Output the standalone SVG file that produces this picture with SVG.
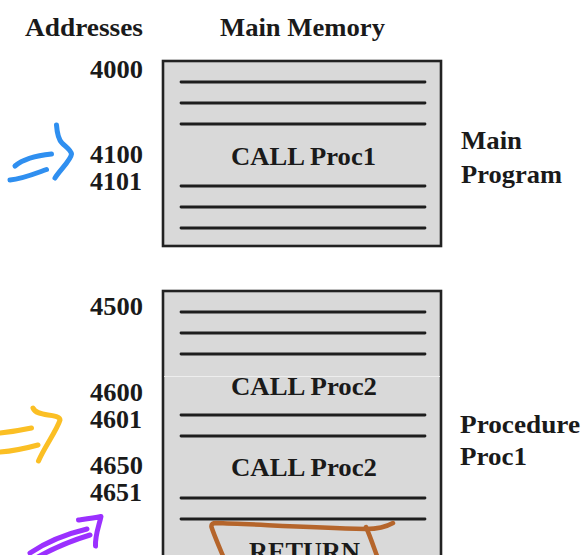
<svg xmlns="http://www.w3.org/2000/svg" width="585" height="555" viewBox="0 0 585 555">
<style>
text{font-family:"Liberation Serif","Times New Roman",serif;font-weight:bold;font-size:25px;fill:#1a1a1a}
.box{fill:#d9d9d9;stroke:#222;stroke-width:2.6}
.ln{stroke:#1e1e1e;stroke-width:2.8;stroke-linecap:round}
.ink{fill:none;stroke-linecap:round;stroke-linejoin:round}
</style>
<rect width="585" height="555" fill="#fff"/>
<g id="headers">
<text x="25" y="36" textLength="118" lengthAdjust="spacingAndGlyphs">Addresses</text>
<text x="220" y="36" textLength="165" lengthAdjust="spacingAndGlyphs">Main Memory</text>
</g>
<g id="main-program">
<rect class="box" x="163" y="61" width="278" height="185"/>
<line class="ln" x1="181" y1="82" x2="425" y2="82"/>
<line class="ln" x1="181" y1="103" x2="425" y2="103"/>
<line class="ln" x1="181" y1="124" x2="425" y2="124"/>
<text x="231" y="165" textLength="145" lengthAdjust="spacingAndGlyphs">CALL Proc1</text>
<line class="ln" x1="181" y1="186" x2="425" y2="186"/>
<line class="ln" x1="181" y1="207" x2="425" y2="207"/>
<line class="ln" x1="181" y1="228" x2="425" y2="228"/>
<text x="90" y="78" textLength="53" lengthAdjust="spacingAndGlyphs">4000</text>
<text x="90" y="163" textLength="53" lengthAdjust="spacingAndGlyphs">4100</text>
<text x="90" y="190" textLength="52" lengthAdjust="spacingAndGlyphs">4101</text>
<text x="461" y="149" textLength="61" lengthAdjust="spacingAndGlyphs">Main</text>
<text x="461" y="183" textLength="101" lengthAdjust="spacingAndGlyphs">Program</text>
</g>
<g id="procedure-proc1">
<rect class="box" x="163" y="291" width="278" height="280"/>
<line x1="164" y1="376.5" x2="440" y2="376.5" stroke="#eeeeee" stroke-width="1"/>
<line class="ln" x1="181" y1="312" x2="425" y2="312"/>
<line class="ln" x1="181" y1="333" x2="425" y2="333"/>
<line class="ln" x1="181" y1="354" x2="425" y2="354"/>
<text x="231" y="395" textLength="146" lengthAdjust="spacingAndGlyphs">CALL Proc2</text>
<line class="ln" x1="181" y1="415" x2="425" y2="415"/>
<line class="ln" x1="181" y1="436" x2="425" y2="436"/>
<text x="231" y="476" textLength="146" lengthAdjust="spacingAndGlyphs">CALL Proc2</text>
<line class="ln" x1="181" y1="498" x2="425" y2="498"/>
<line class="ln" x1="181" y1="519" x2="425" y2="519"/>
<text x="249" y="560" textLength="111" lengthAdjust="spacingAndGlyphs">RETURN</text>
<text x="90" y="315" textLength="53" lengthAdjust="spacingAndGlyphs">4500</text>
<text x="90" y="401" textLength="53" lengthAdjust="spacingAndGlyphs">4600</text>
<text x="90" y="428" textLength="52" lengthAdjust="spacingAndGlyphs">4601</text>
<text x="90" y="474" textLength="53" lengthAdjust="spacingAndGlyphs">4650</text>
<text x="90" y="501" textLength="52" lengthAdjust="spacingAndGlyphs">4651</text>
<text x="460" y="433" textLength="120" lengthAdjust="spacingAndGlyphs">Procedure</text>
<text x="460" y="465" textLength="67" lengthAdjust="spacingAndGlyphs">Proc1</text>
</g>
<g id="annotations">
<path class="ink" stroke="#2f8ff0" stroke-width="5" d="M56.5 125 C57 132 58 139 62 143 C66 147 71 150 71.5 154 C71 160 60 170 55 178"/>
<path class="ink" stroke="#2f8ff0" stroke-width="5" d="M15 166 C22 160 32 156 51.5 154"/>
<path class="ink" stroke="#2f8ff0" stroke-width="5" d="M10 180 C22 179 34 174 46.5 169.5"/>
<path class="ink" stroke="#fbbf24" stroke-width="5" d="M33 408 C35 413 41 414 48 415 C56 416 60 417 60 420 C57 430 44 448 38.5 461"/>
<path class="ink" stroke="#fbbf24" stroke-width="5" d="M0 433 C10 432 22 430 31.5 428"/>
<path class="ink" stroke="#fbbf24" stroke-width="5" d="M0 452 C13 451 27 448 38 445"/>
<path class="ink" stroke="#9b30ff" stroke-width="5" d="M78.5 520 C86 519 94 518 101 516.5 C99 526 95 535 95.5 546"/>
<path class="ink" stroke="#9b30ff" stroke-width="5" d="M30 553 C45 543 66 534 87 529"/>
<path class="ink" stroke="#9b30ff" stroke-width="5" d="M36 558 C52 549 70 541 90 535"/>
<path class="ink" stroke="#b5652b" stroke-width="4.5" d="M223 556 C219 546 214 535 211.5 527 C211 524 213 523 216 523 C250 524 300 527 366 529 C378 529 386 527 393 523"/>
<path class="ink" stroke="#b5652b" stroke-width="4.5" d="M366 527 C370 536 373 545 377 556"/>
</g>
</svg>
